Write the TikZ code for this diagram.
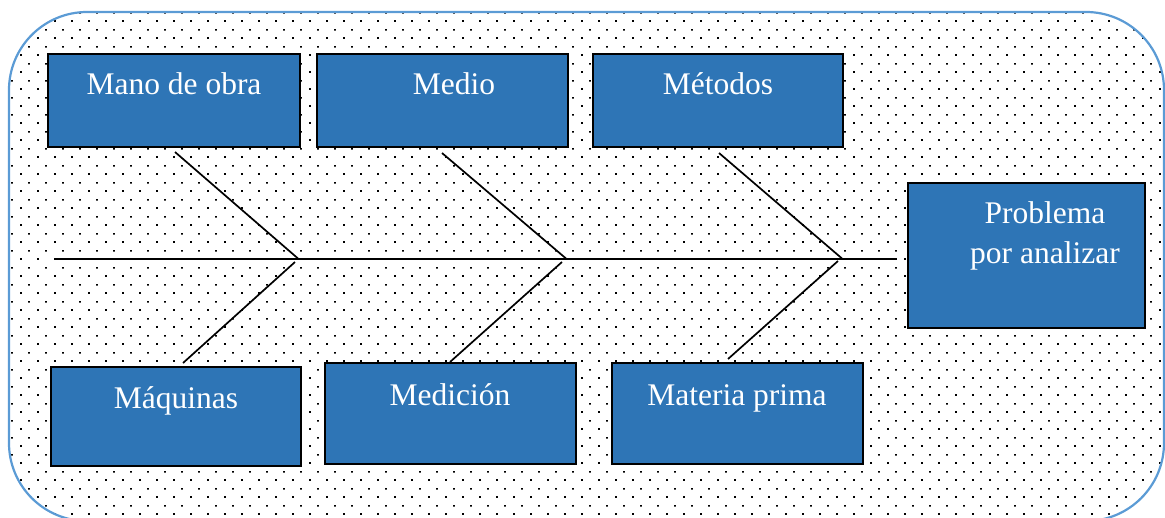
\documentclass[tikz,border=0pt]{standalone}
\usepackage{fontspec}
\setmainfont{Liberation Serif}
\usetikzlibrary{patterns}
\pgfdeclarepatternformonly{mydots}{\pgfpoint{0pt}{0pt}}{\pgfpoint{17pt}{17pt}}{\pgfpoint{17pt}{17pt}}{%
  \pgfpathrectangle{\pgfpoint{3.4pt}{3.4pt}}{\pgfpoint{1.7pt}{1.7pt}}%
  \pgfpathrectangle{\pgfpoint{11.9pt}{11.9pt}}{\pgfpoint{1.7pt}{1.7pt}}%
  \pgfusepath{fill}}
\definecolor{boxblue}{HTML}{2E75B6}
\definecolor{frameblue}{HTML}{5B9BD5}
\begin{document}
\begin{tikzpicture}[x=1pt,y=-1pt,
  box/.style={draw=black, line width=2.2pt, fill=boxblue, inner sep=0pt},
  lbl/.style={text=white, font=\fontsize{31.5}{40}\selectfont, anchor=base, inner sep=0pt},
  bone/.style={line width=1.7pt},
  spine/.style={line width=2pt}]
\useasboundingbox (0,0) rectangle (1165,517);
\draw[frameblue, line width=2.2pt, pattern=mydots, rounded corners=78pt] (9,12) rectangle (1164,521);

% boxes
\node[box, minimum width=252pt, minimum height=93pt] (mano) at (174,100.5) {};
\node[box, minimum width=251pt, minimum height=93pt] (medio) at (442.5,100.5) {};
\node[box, minimum width=250pt, minimum height=93pt] (metodos) at (718,100.5) {};
\node[box, minimum width=237pt, minimum height=145pt] (problema) at (1026.5,255.5) {};
\node[box, minimum width=250pt, minimum height=99pt] (maquinas) at (176,416.5) {};
\node[box, minimum width=251pt, minimum height=101pt] (medicion) at (450.5,413.5) {};
\node[box, minimum width=251pt, minimum height=101pt] (materia) at (737.5,413.5) {};

% labels
\node[lbl] (tmano) at (174,94) {Mano de obra};
\node[lbl] (tmedio) at (454,94) {Medio};
\node[lbl] (tmetodos) at (718,94) {Métodos};
\node[lbl] (tprob1) at (1045,223) {Problema};
\node[lbl] (tprob2) at (1045,263) {por analizar};
\node[lbl] (tmaquinas) at (176,408) {Máquinas};
\node[lbl] (tmedicion) at (450,405) {Medición};
\node[lbl] (tmateria) at (737,405) {Materia prima};

% spine
\coordinate (s0) at (54,258.5);
\coordinate (s1) at (897,258.5);
\draw[spine] (s0) -- (s1);

% junctions
\coordinate (j1) at (298,258.5);
\coordinate (j2) at (566,258.5);
\coordinate (j3) at (842,258.5);
\coordinate (k1) at (295,262);
\coordinate (k2) at (562,262);
\coordinate (k3) at (838,261);

% bone ends
\coordinate (u1) at (175,152);
\coordinate (u2) at (442,153);
\coordinate (u3) at (719,153);
\coordinate (l1) at (183,363);
\coordinate (l2) at (450,362);
\coordinate (l3) at (728,359);

\draw[bone] (u1) -- (j1);
\draw[bone] (u2) -- (j2);
\draw[bone] (u3) -- (j3);
\draw[bone] (l1) -- (k1);
\draw[bone] (l2) -- (k2);
\draw[bone] (l3) -- (k3);
\end{tikzpicture}
\end{document}
